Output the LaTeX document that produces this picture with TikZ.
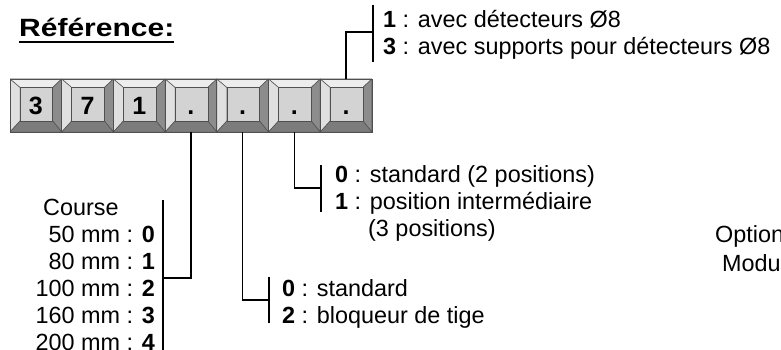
\documentclass[tikz,border=0pt]{standalone}
\usepackage{fontspec}
\setmainfont{Liberation Sans}
\newfontfamily\titlefont{Liberation Sans}[FakeStretch=1.2]
\usepackage{tikz}
\usetikzlibrary{positioning}
\definecolor{keyline}{HTML}{505050}
\definecolor{keyface}{HTML}{D3D3D3}
\definecolor{keytop}{HTML}{EDEDED}
\definecolor{keyleft}{HTML}{E0E0E0}
\definecolor{keyright}{HTML}{8C8C8C}
\definecolor{keybottom}{HTML}{7C7C7C}
\tikzset{
  keycap/.style={draw=keyline, fill=keyface, line width=0.8pt, inner sep=0pt, outer sep=0pt,
                 minimum width=51.7pt, minimum height=53pt, text height=19pt, text depth=0pt,
                 font=\bfseries\fontsize{25}{25}\selectfont,
                 path picture={
                   \filldraw[keytop, draw=keyline, line width=0.5pt] (path picture bounding box.north west) -- (path picture bounding box.north east)
                     -- ([xshift=-9pt,yshift=-8.5pt]path picture bounding box.north east) -- ([xshift=10pt,yshift=-8.5pt]path picture bounding box.north west) -- cycle;
                   \filldraw[keyleft, draw=keyline, line width=0.5pt] (path picture bounding box.north west) -- (path picture bounding box.south west)
                     -- ([xshift=10pt,yshift=11pt]path picture bounding box.south west) -- ([xshift=10pt,yshift=-8.5pt]path picture bounding box.north west) -- cycle;
                   \filldraw[keyright, draw=keyline, line width=0.5pt] (path picture bounding box.north east) -- (path picture bounding box.south east)
                     -- ([xshift=-9pt,yshift=11pt]path picture bounding box.south east) -- ([xshift=-9pt,yshift=-8.5pt]path picture bounding box.north east) -- cycle;
                   \filldraw[keybottom, draw=keyline, line width=0.5pt] (path picture bounding box.south west) -- (path picture bounding box.south east)
                     -- ([xshift=-9pt,yshift=11pt]path picture bounding box.south east) -- ([xshift=10pt,yshift=11pt]path picture bounding box.south west) -- cycle;
                   \filldraw[keyface, draw=keyline, line width=0.6pt] ([xshift=10pt,yshift=-8.5pt]path picture bounding box.north west) rectangle ([xshift=-9pt,yshift=11pt]path picture bounding box.south east);
                 }},
  legend/.style={inner sep=0pt, anchor=base west, font=\fontsize{23.4}{27}\selectfont},
  wire/.style={line width=1.3pt},
}

\begin{document}
\begin{tikzpicture}[x=1pt, y=-1pt]
\useasboundingbox (0,0) rectangle (781,350);

%Title
\node[inner sep=0pt, anchor=base west, font=\titlefont\bfseries\fontsize{25}{25}\selectfont] (title) at (19,37) {Référence:};
\draw[line width=2pt] ([yshift=-5pt]title.base west) -- ([yshift=-5pt]title.base east);

%Keys
\node[keycap] (key1) at (35.85,105.5) {3};
\node[keycap, right=0pt of key1] (key2) {7};
\node[keycap, right=0pt of key2] (key3) {1};
\node[keycap, right=0pt of key3] (key4) {.};
\node[keycap, right=0pt of key4] (key5) {.};
\node[keycap, right=0pt of key5] (key6) {.};
\node[keycap, right=0pt of key6] (key7) {.};

%Texts
\node[legend] (det1) at (383,28) {\textbf{1} : avec détecteurs Ø8};
\node[legend] (det3) at (383,55) {\textbf{3} : avec supports pour détecteurs Ø8};
\node[legend] (pos0) at (335,182) {\textbf{0} : standard (2 positions)};
\node[legend] (pos1) at (335,209) {\textbf{1} : position intermédiaire};
\node[legend] (pos3) at (368,236) {(3 positions)};
\node[legend] (blq0) at (282,296) {\textbf{0} : standard};
\node[legend] (blq2) at (282,323) {\textbf{2} : bloqueur de tige};
\node[legend] (course) at (43,215) {Course};
\foreach \len/\code [count=\i] in {50/0,80/1,100/2,160/3,200/4}
  \node[legend, anchor=base east] (course\i) at (155,215+27*\i) {\len~mm : \textbf{\code}};
\node[legend] (option) at (715,242) {Option};
\node[legend] (modu) at (722,271) {Modu};

%Lines
\coordinate (tick4) at (163,278);
\coordinate (tick5) at (269,300);
\coordinate (tick6) at (321,188);
\coordinate (tick7) at (373,32);
\draw[wire] (key4.south) |- (tick4);
\draw[wire] (key5.south) |- (tick5);
\draw[wire] (key6.south) |- (tick6);
\draw[wire] (key7.north) |- (tick7);
\draw[wire] (163,200) coordinate (bar4a) -- (163,352) coordinate (bar4b);
\draw[wire] (269,277) coordinate (bar5a) -- (269,323) coordinate (bar5b);
\draw[wire] (321,165) coordinate (bar6a) -- (321,212) coordinate (bar6b);
\draw[wire] (373,5) coordinate (bar7a) -- (373,62) coordinate (bar7b);
\end{tikzpicture}
\end{document}
